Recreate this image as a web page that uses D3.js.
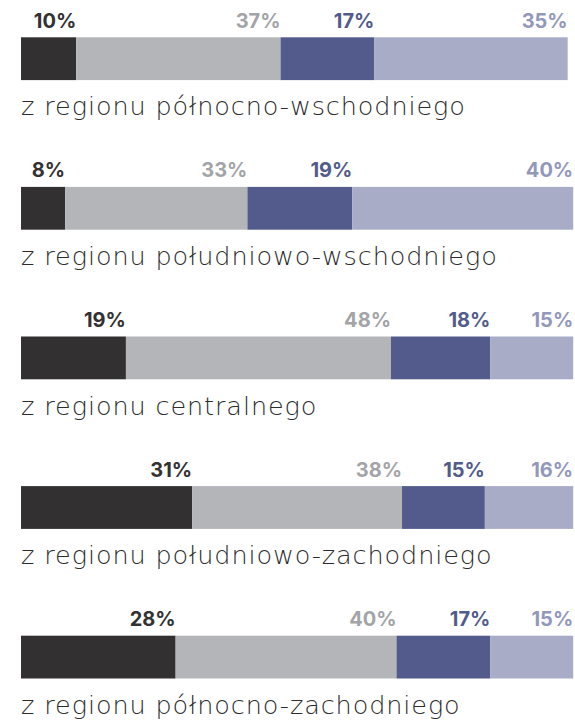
<!DOCTYPE html>
<html><head><meta charset="utf-8">
<script src="https://cdn.jsdelivr.net/npm/d3@7"></script>
<style>
html,body{margin:0;padding:0;background:#fff;}
svg{display:block;}
</style>
</head><body>
<script>
const regions = [
  "z regionu północno-wschodniego",
  "z regionu południowo-wschodniego",
  "z regionu centralnego",
  "z regionu południowo-zachodniego",
  "z regionu północno-zachodniego"
];
const seriesKeys = ["s1", "s2", "s3", "s4"];
const s1 = [10, 8, 19, 31, 28];
const s2 = [37, 33, 48, 38, 40];
const s3 = [17, 19, 18, 15, 17];
const s4 = [35, 40, 15, 16, 15];
const barColors = ["#323031", "#b4b5b8", "#525b8b", "#a9acc7"];
const labelColors = ["#333132", "#a3a4a7", "#525b8b", "#9398ba"];

const W = 575, H = 721;
const svg = d3.select("body").append("svg").attr("width", W).attr("height", H);

const data = regions.map((r, i) => ({region: r, s1: s1[i], s2: s2[i], s3: s3[i], s4: s4[i]}));
const stacked = d3.stack().keys(seriesKeys)(data);

const x = d3.scaleLinear().domain([0, 100]).range([21, 573.2]);
const y = d3.scaleLinear().domain([0, 4]).range([37.3, 635.7]);
const barH = 42.8;

const valueFont = "Inter, 'Open Sans', sans-serif";
const labelFont = "'DejaVu Sans', sans-serif";

stacked.forEach((layer, k) => {
  const g = svg.append("g");
  g.selectAll("rect").data(layer).join("rect")
    .attr("x", d => x(d[0]))
    .attr("y", (d, i) => y(i))
    .attr("width", d => x(d[1]) - x(d[0]))
    .attr("height", barH)
    .attr("fill", barColors[k]);
  g.selectAll("text").data(layer).join("text")
    .attr("x", d => x(d[1]))
    .attr("y", (d, i) => y(i) - 9.6)
    .attr("text-anchor", "end")
    .attr("font-family", valueFont)
    .attr("font-weight", 700)
    .attr("font-size", 20)
    .attr("fill", labelColors[k])
    .text(d => (d[1] - d[0]) + "%");
});

svg.append("g").selectAll("text").data(regions).join("text")
  .attr("x", x(0))
  .attr("y", (d, i) => y(i) + barH + 35.2)
  .attr("font-family", labelFont)
  .attr("font-weight", 200)
  .attr("font-size", 25.5)
  .attr("letter-spacing", 0.9)
  .attr("fill", "#2c2c2c")
  .text(d => d);
</script>
</body></html>
